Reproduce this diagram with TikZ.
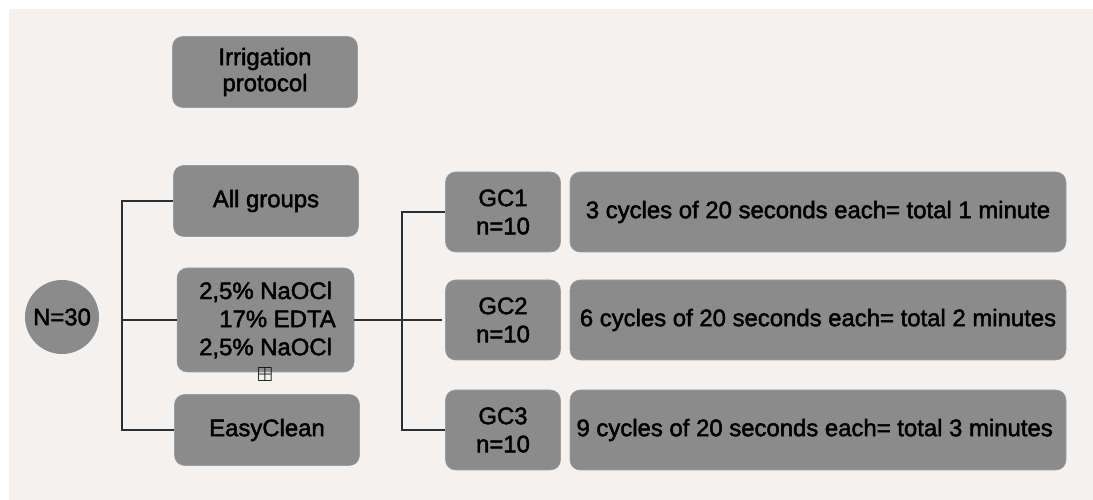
\documentclass[tikz,border=0pt]{standalone}
\usepackage{amssymb}
\usepackage{fontspec}
\setmainfont{Liberation Sans}[FakeBold=2]
\definecolor{paper}{HTML}{F3F2F0}
\definecolor{boxgray}{HTML}{8B8B8B}
\definecolor{wire}{HTML}{2E2E2E}
\tikzset{
  grpbox/.style={draw=boxgray!85!white, fill=boxgray, rounded corners=0.25cm, align=center,
    font=\fontsize{17}{20}\selectfont, text=black, inner sep=2pt},
  wirebr/.style={draw=wire, line width=0.9pt}
}
\begin{document}
\begin{tikzpicture}[scale=1]
		% % Page and background
		 	\fill[white] (0,0) rectangle (27.325,12.5);
		 	\fill[paper] (0.225,0) rectangle (27.325,12.275);
		% % Left column
		 	\node[grpbox, minimum width=4.625cm, minimum height=1.775cm, font=\fontsize{17}{18.5}\selectfont] (proto) at (6.625,10.7) {Irrigation\\protocol};
		 	\node[grpbox, minimum width=4.625cm, minimum height=1.775cm] (allg) at (6.65,7.475) {All groups};
		 	\node[grpbox, minimum width=4.425cm, minimum height=2.6cm] (mix) at (6.64,4.5) {2,5\% NaOCl\\\hspace{1em}17\% EDTA\\2,5\% NaOCl};
		 	\node[grpbox, minimum width=4.625cm, minimum height=1.775cm] (easy) at (6.675,1.75) {EasyClean};
		 	\node[inner sep=0pt, font=\Large] (plus) at (6.625,3.13) {$\boxplus$};
		 	\node[circle, fill=boxgray, minimum size=1.85cm, inner sep=0pt, font=\fontsize{17}{20}\selectfont] (ntot) at (1.55,4.575) {N=30};
		% % Groups and cycles
		 	\foreach \y/\g/\txt in {
  		 		7.2/1/3 cycles of 20 seconds each= total 1 minute,
  		 		4.5/2/6 cycles of 20 seconds each= total 2 minutes,
  		 		1.75/3/9 cycles of 20 seconds each= total 3 minutes
		 	}{
  		 		\node[grpbox, minimum width=2.875cm, minimum height=2.0cm] (gc\g) at (12.575,\y)
    	 		{GC\g\\n=10};
  		 		\node[grpbox, minimum width=12.4cm, minimum height=2.0cm] (cyc\g) at (20.45,\y)
    	 		{\txt};
		 	}
		% % Brackets
		 	\coordinate (brL) at (3.05,0);
		 	\coordinate (brR) at (10.05,0);
		 	\draw[wirebr] (allg.west) -- (allg.west -| brL) -- (easy.west -| brL) -- (easy.west);
		 	\draw[wirebr] (mix.west -| brL) -- (mix.west);
		 	\draw[wirebr] (gc1.west) -- (gc1.west -| brR) -- (gc3.west -| brR) -- (gc3.west);
		 	\draw[wirebr] (mix.east) -- ([xshift=-2pt]gc2.west);
\end{tikzpicture}
\end{document}
